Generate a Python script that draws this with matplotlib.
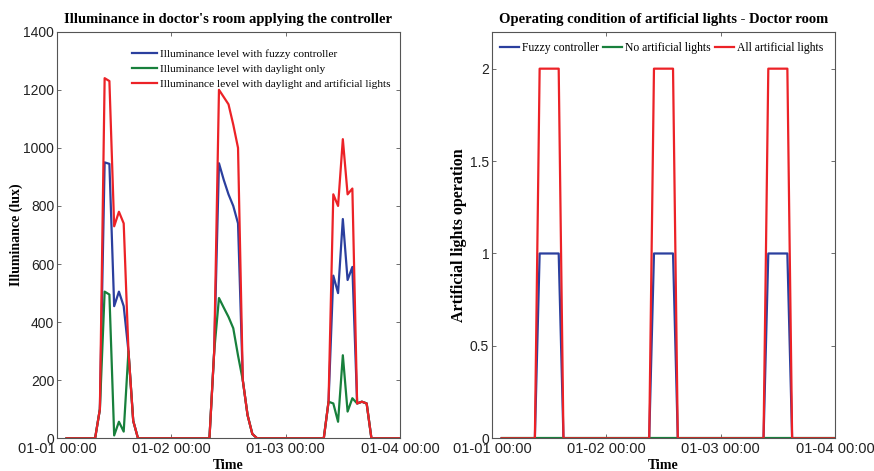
import matplotlib
matplotlib.use("Agg")
import matplotlib.pyplot as plt

# ---------------- data ----------------
# hours since 01-01 00:00 (break points of the hourly series)
hours = [2,
         8, 9, 10, 11, 12, 13, 14, 15, 16, 17,
         32, 33, 34, 35, 36, 37, 38, 39, 40, 41, 42,
         56, 57, 58, 59, 60, 61, 62, 63, 64, 65, 66,
         72]
lux_fuzzy = [0,
             0, 100, 950, 945, 455, 505, 455, 300, 60, 0,
             0, 300, 947, 890, 840, 800, 740, 200, 80, 15, 0,
             0, 126, 560, 500, 755, 545, 590, 120, 126, 120, 0,
             0]
lux_daylight = [0,
                0, 100, 505, 495, 10, 57, 23, 300, 60, 0,
                0, 300, 483, 450, 418, 379, 285, 200, 80, 15, 0,
                0, 126, 120, 57, 286, 92, 138, 120, 126, 120, 0,
                0]
lux_all = [0,
           0, 100, 1240, 1230, 730, 780, 740, 300, 60, 0,
           0, 300, 1200, 1175, 1150, 1080, 1000, 200, 80, 15, 0,
           0, 126, 840, 800, 1030, 840, 860, 120, 126, 120, 0,
           0]

op_hours = [2, 9, 10, 14, 15, 33, 34, 38, 39, 57, 58, 62, 63, 72]
op_fuzzy = [0, 0, 1, 1, 0, 0, 1, 1, 0, 0, 1, 1, 0, 0]
op_none = [0, 0, 0, 0, 0, 0, 0, 0, 0, 0, 0, 0, 0, 0]
op_all = [0, 0, 2, 2, 0, 0, 2, 2, 0, 0, 2, 2, 0, 0]

xtick_hours = [0, 24, 48, 72]
xtick_labels = ["01-01 00:00", "01-02 00:00", "01-03 00:00", "01-04 00:00"]
left_yticks = [0, 200, 400, 600, 800, 1000, 1200, 1400]
right_yticks = [0, 0.5, 1, 1.5, 2]
right_yticklabels = ["0", "0.5", "1", "1.5", "2"]

# ---------------- style ----------------
BLUE = "#2b3f9e"
GREEN = "#18803c"
RED = "#ec2227"
SERIF = "Liberation Serif"
SANS = "Liberation Sans"
LW = 1.6

plt.rcParams["font.family"] = SANS
plt.rcParams["axes.linewidth"] = 0.8
plt.rcParams["axes.edgecolor"] = "#555555"

fig = plt.figure(figsize=(8.74, 4.71), dpi=100)
W, H = 874, 471


def ax_rect(x0, x1, y0, y1):
    return [x0 / W, 1 - y1 / H, (x1 - x0) / W, (y1 - y0) / H]


ax1 = fig.add_axes(ax_rect(57, 400, 31.7, 438.3))
ax2 = fig.add_axes(ax_rect(492, 835, 31.7, 438.3))


def style(ax):
    ax.tick_params(direction="in", length=3, width=0.6, top=True, right=True,
                   pad=2, colors="#555555", labelcolor="#222222")
    ax.tick_params(axis="y", labelsize=10)
    ax.tick_params(axis="x", labelsize=10.5, pad=3)
    ax.set_xticks(xtick_hours)
    ax.set_xticklabels(xtick_labels)
    ax.set_xlim(0, 72)


# ---------- left panel ----------
ax1.plot(hours, lux_fuzzy, color=BLUE, lw=LW, label="Illuminance level with fuzzy controller")
ax1.plot(hours, lux_daylight, color=GREEN, lw=LW, label="Illuminance level with daylight only")
ax1.plot(hours, lux_all, color=RED, lw=LW, label="Illuminance level with daylight and artificial lights")
style(ax1)
ax1.set_ylim(0, 1400)
ax1.set_yticks(left_yticks)
ax1.set_title("Illuminance in doctor's room applying the controller",
              fontfamily=SERIF, fontweight="bold", fontsize=10.5, pad=6)
ax1.set_ylabel("Illuminance (lux)", fontfamily=SERIF, fontweight="bold", fontsize=10, labelpad=0)
ax1.set_xlabel("Time", fontfamily=SERIF, fontweight="bold", fontsize=10, labelpad=1.5)
leg1 = ax1.legend(loc="upper left", bbox_to_anchor=(0.219, 0.957), frameon=False,
                  prop={"family": SERIF, "size": 8.2}, borderpad=0, handlelength=2.2,
                  handletextpad=0.25, labelspacing=0.45, borderaxespad=0)

# ---------- right panel ----------
ax2.plot(op_hours, op_fuzzy, color=BLUE, lw=LW, label="Fuzzy controller")
ax2.plot(op_hours, op_none, color=GREEN, lw=LW, label="No artificial lights")
ax2.plot(op_hours, op_all, color=RED, lw=LW, label="All artificial lights")
style(ax2)
ax2.set_ylim(0, 2.2)
ax2.set_yticks(right_yticks)
ax2.set_yticklabels(right_yticklabels)
ax2.set_title("Operating condition of artificial lights - Doctor room",
              fontfamily=SERIF, fontweight="bold", fontsize=10.5, pad=6)
ax2.set_ylabel("Artificial lights operation", fontfamily=SERIF, fontweight="bold", fontsize=11.5, labelpad=2)
ax2.set_xlabel("Time", fontfamily=SERIF, fontweight="bold", fontsize=10, labelpad=1.5)
leg2 = ax2.legend(loc="upper left", bbox_to_anchor=(0.024, 0.975), frameon=False, ncol=3,
                  prop={"family": SERIF, "size": 8.4}, borderpad=0, handlelength=1.6,
                  handletextpad=0.25, columnspacing=0.4, borderaxespad=0)

fig.savefig("out.png", dpi=100)
